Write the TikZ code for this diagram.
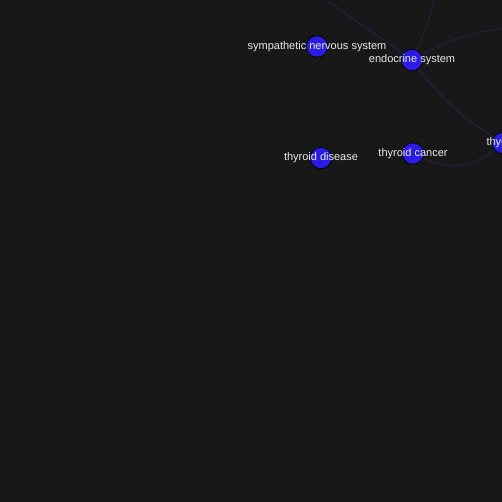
\documentclass[tikz,border=0pt]{standalone}
\usepackage{fontspec}
\setmainfont{Liberation Sans}
\definecolor{bgdark}{RGB}{24,24,24}
\definecolor{nodeblue}{RGB}{42,28,228}
\definecolor{edgedim}{RGB}{33,33,58}
\definecolor{labelgray}{RGB}{236,236,236}
\begin{document}
\begin{tikzpicture}[x=1pt,y=1pt,
    topic/.style={circle,draw=black,line width=0.8pt,fill=nodeblue,minimum size=21.5pt,inner sep=0pt},
    topiclabel/.style={text=labelgray,inner sep=0pt,font=\fontsize{11}{13}\selectfont},
    link/.style={draw=edgedim,line width=1.1pt}]
    %\draw [help lines] (0,0) grid (502,502);
    \fill[bgdark] (0,0) rectangle (502,502);
    \useasboundingbox (0,0) rectangle (502,502);
    \clip (0,0) rectangle (502,502);

    \node[topic] (symp) at (317,455.5) {};
    \node[topic] (endo) at (412,442) {};
    \node[topic] (tdis) at (321,344) {};
    \node[topic] (tcan) at (413,348.5) {};
    \node[topic] (thyr) at (503,359) {};

    \coordinate (endoul) at (298,522);
    \coordinate (endoup) at (437,514);
    \coordinate (endor) at (530,474);

    \draw[link] (endo) -- (endoul);
    \draw[link] (endo) to[bend right=6] (endoup);
    \draw[link] (endo) to[bend left=14] (endor);
    \draw[link] (endo) to[bend right=10] (thyr);
    \draw[link] (tcan) to[bend right=32] (thyr);

    \node[topiclabel] (symplabel) at (symp) {sympathetic nervous system};
    \node[topiclabel] (endolabel) at (endo) {endocrine system};
    \node[topiclabel] (tdislabel) at (tdis) {thyroid disease};
    \node[topiclabel] (tcanlabel) at (tcan) {thyroid cancer};
    \node[topiclabel] (thyrlabel) at (thyr) {thyroid};
\end{tikzpicture}
\end{document}
